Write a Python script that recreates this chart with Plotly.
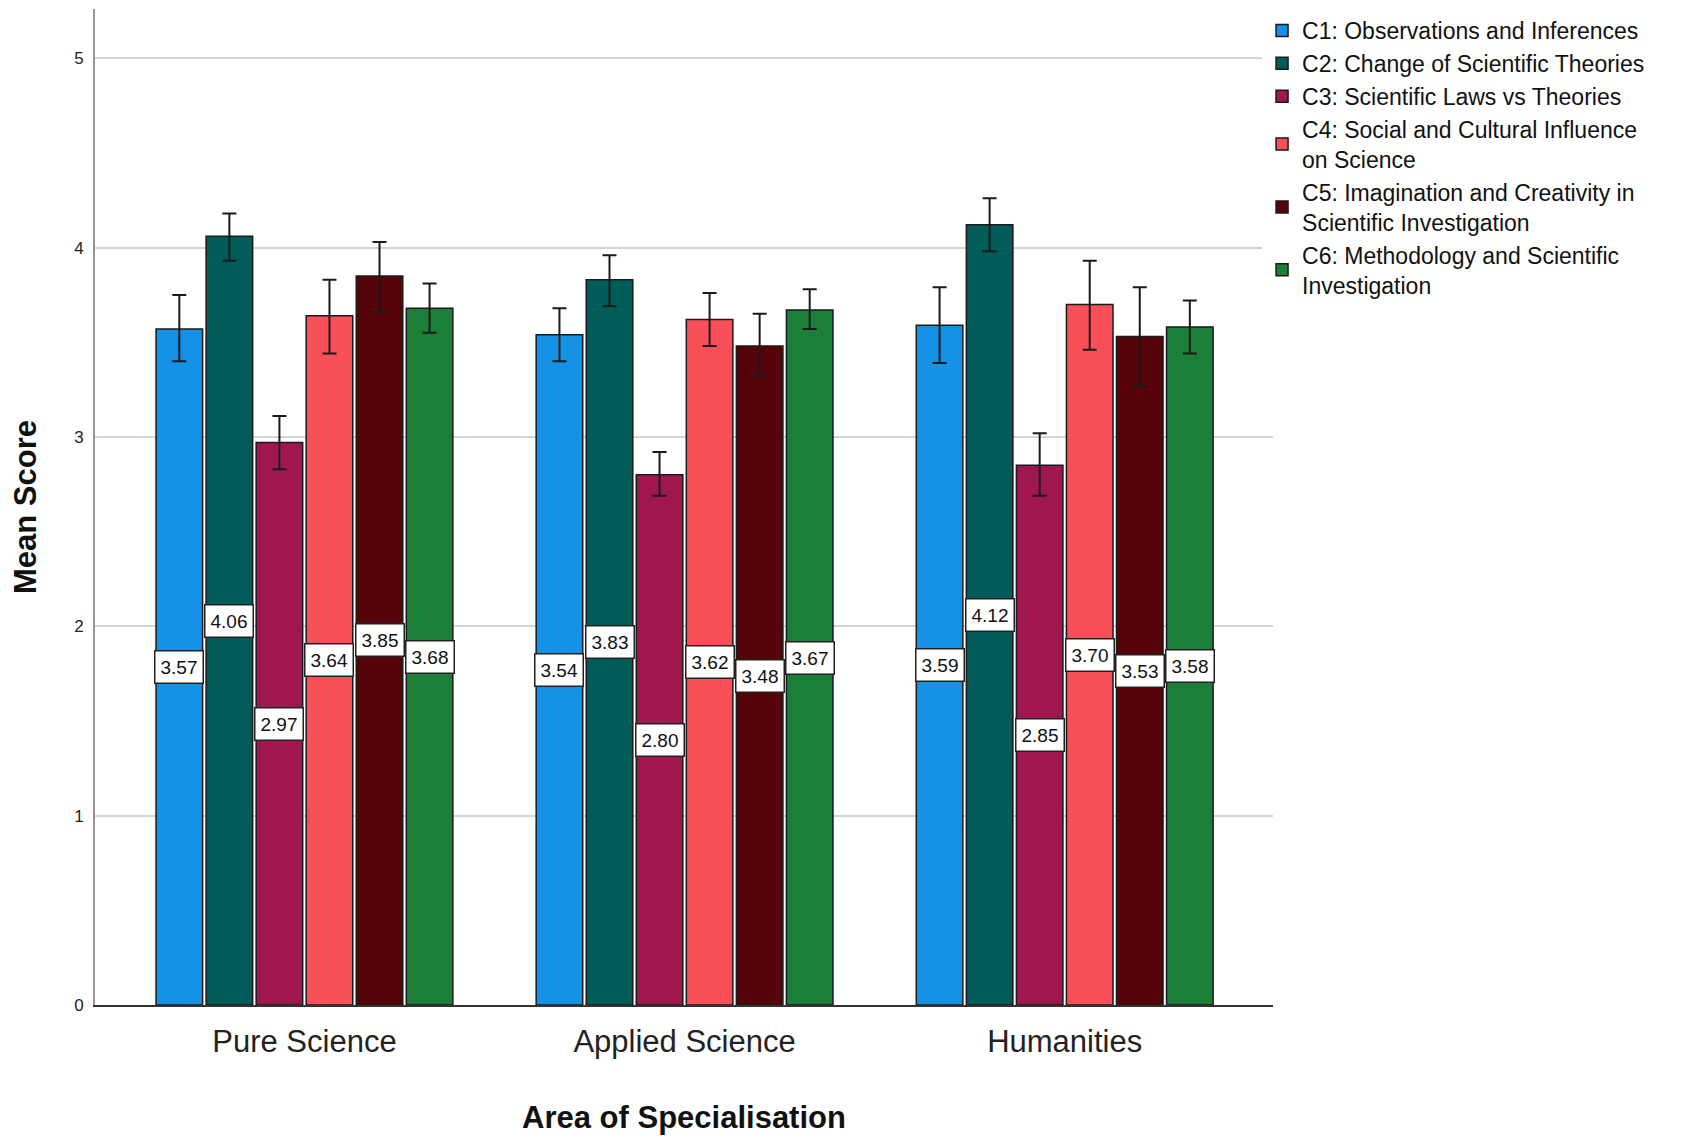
import plotly.graph_objects as go

categories = ["Pure Science", "Applied Science", "Humanities"]
series_names = [
    "C1: Observations and Inferences",
    "C2: Change of Scientific Theories",
    "C3: Scientific Laws vs Theories",
    "C4: Social and Cultural Influence<br>on Science",
    "C5: Imagination and Creativity in<br>Scientific Investigation",
    "C6: Methodology and Scientific<br>Investigation",
]
colors = ["#1591E6", "#005C58", "#A0174F", "#F94F59", "#56040A", "#1C7F38"]

# mean values per series (Pure, Applied, Humanities)
c1 = [3.57, 3.54, 3.59]
c2 = [4.06, 3.83, 4.12]
c3 = [2.97, 2.80, 2.85]
c4 = [3.64, 3.62, 3.70]
c5 = [3.85, 3.48, 3.53]
c6 = [3.68, 3.67, 3.58]
means = [c1, c2, c3, c4, c5, c6]

# upper / lower confidence bounds
c1_hi = [3.75, 3.68, 3.79]; c1_lo = [3.40, 3.40, 3.39]
c2_hi = [4.18, 3.96, 4.26]; c2_lo = [3.93, 3.69, 3.98]
c3_hi = [3.11, 2.92, 3.02]; c3_lo = [2.83, 2.69, 2.69]
c4_hi = [3.83, 3.76, 3.93]; c4_lo = [3.44, 3.48, 3.46]
c5_hi = [4.03, 3.65, 3.79]; c5_lo = [3.66, 3.32, 3.27]
c6_hi = [3.81, 3.78, 3.72]; c6_lo = [3.55, 3.57, 3.44]
highs = [c1_hi, c2_hi, c3_hi, c4_hi, c5_hi, c6_hi]
lows = [c1_lo, c2_lo, c3_lo, c4_lo, c5_lo, c6_lo]

FONT = "Liberation Sans, Arial, sans-serif"

bargap = 0.21
n = len(means)
xs = list(range(len(categories)))

fig = go.Figure()
for i in range(n):
    fig.add_trace(go.Bar(
        x=xs, y=means[i], name=series_names[i],
        marker=dict(color=colors[i], line=dict(color="#1a1a1a", width=1.5)),
        error_y=dict(type="data", symmetric=False,
                     array=[h - m for h, m in zip(highs[i], means[i])],
                     arrayminus=[m - l for m, l in zip(means[i], lows[i])],
                     color="#1a1a1a", thickness=2, width=7),
    ))

slot = (1 - bargap) / n
for i in range(n):
    for j in xs:
        v = means[i][j]
        fig.add_annotation(
            x=j + (i - (n - 1) / 2) * slot, y=v / 2, xref="x", yref="y",
            text=f"{v:.2f}", showarrow=False,
            font=dict(family=FONT, size=19, color="#111"),
            bgcolor="white", bordercolor="#222", borderwidth=1.5, borderpad=5,
        )

fig.update_layout(
    width=1694, height=1136,
    margin=dict(l=87, r=429, t=1, b=139),
    plot_bgcolor="white", paper_bgcolor="white",
    barmode="group", bargap=bargap, bargroupgap=0.07,
    font=dict(family=FONT, color="#111"),
    legend=dict(x=0.9907, y=1.0, xanchor="left", yanchor="top",
                font=dict(family=FONT, size=23, color="#111"),
                tracegroupgap=6, itemwidth=30),
    showlegend=True,
)
fig.update_xaxes(
    range=[-0.551, 2.548], tickvals=xs, ticktext=categories,
    tickfont=dict(family=FONT, size=31, color="#222"),
    ticklabelstandoff=8,
    showline=True, linecolor="#333", linewidth=1.5, ticks="",
    showgrid=False,
    title=dict(text="<b>Area of Specialisation</b>", font=dict(family=FONT, size=31, color="#111"), standoff=48),
)
fig.update_yaxes(
    range=[0, 5.26], tickvals=[0, 1, 2, 3, 4, 5],
    tickfont=dict(family=FONT, size=17, color="#222"),
    showline=True, linecolor="#999", linewidth=2,
    showgrid=True, gridcolor="#D4D4D4", gridwidth=2, zeroline=False,
    ticks="outside", ticklen=6, tickcolor="#fff",
    title=dict(text="<b>Mean Score</b>", font=dict(family=FONT, size=31, color="#111"), standoff=28),
)

fig.write_html("out.html")
